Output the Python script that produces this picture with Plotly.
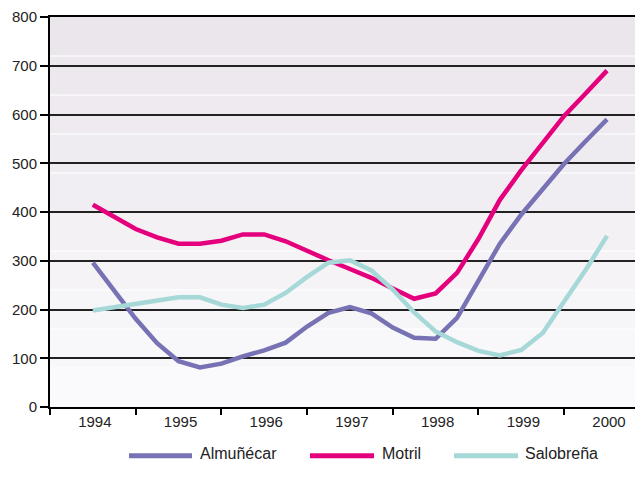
import plotly.graph_objects as go

# ---- data (quarterly readings, values in units) ----
quarters = [1994 + i * 0.25 for i in range(25)]
years = [1994, 1995, 1996, 1997, 1998, 1999, 2000]
year_labels = ["1994", "1995", "1996", "1997", "1998", "1999", "2000"]

almunecar = [296, 237, 181, 131, 94, 81, 89, 104, 116, 132, 165, 193, 205,
             192, 163, 142, 140, 183, 258, 335, 395, 448, 499, 545, 590]
motril = [415, 390, 365, 348, 335, 335, 341, 354, 354, 340, 320, 301, 283,
          265, 243, 222, 233, 275, 345, 425, 486, 542, 597, 643, 690]
salobrena = [198, 205, 212, 218, 225, 225, 210, 203, 210, 234, 267, 296, 301,
             280, 241, 194, 155, 133, 115, 106, 117, 152, 216, 281, 351]

series_names = ["Almuñécar", "Motril", "Salobreña"]
series_values = [almunecar, motril, salobrena]
series_colors = ["#7772b3", "#e4007c", "#a5d8d7"]

y_ticks = [0, 100, 200, 300, 400, 500, 600, 700, 800]

FONT = "Liberation Sans, Arial, Helvetica, sans-serif"

fig = go.Figure()
for name, vals, col in zip(series_names, series_values, series_colors):
    fig.add_trace(go.Scatter(x=quarters, y=vals, mode="lines", name=name,
                             line=dict(color=col, width=4.5),
                             showlegend=False))

shapes = []
# stepped background bands (every 80 units), darker at top
n_bands = 10
top_rgb = (234, 230, 236)
bot_rgb = (250, 249, 251)
for i in range(n_bands):
    t = i / (n_bands - 1)
    r = round(bot_rgb[0] + (top_rgb[0] - bot_rgb[0]) * t)
    g = round(bot_rgb[1] + (top_rgb[1] - bot_rgb[1]) * t)
    b = round(bot_rgb[2] + (top_rgb[2] - bot_rgb[2]) * t)
    shapes.append(dict(type="rect", xref="paper", yref="y", x0=0, x1=1,
                       y0=i * 80, y1=(i + 1) * 80, layer="below",
                       fillcolor=f"rgb({r},{g},{b})", line=dict(width=0)))
for i in range(1, n_bands):
    shapes.append(dict(type="line", xref="paper", yref="y", x0=0, x1=1,
                       y0=i * 80, y1=i * 80, layer="below",
                       line=dict(color="white", width=1.2)))

# custom legend
leg_y = -0.125
leg_items = [(0.1332, 0.2395, 0.2496), (0.4384, 0.5464, 0.5565), (0.6813, 0.7892, 0.7976)]
annotations = []
for (x0, x1, xt), name, col in zip(leg_items, series_names, series_colors):
    shapes.append(dict(type="line", xref="paper", yref="paper", x0=x0, x1=x1,
                       y0=leg_y, y1=leg_y, line=dict(color=col, width=5)))
    annotations.append(dict(xref="paper", yref="paper", x=xt, y=leg_y + 0.006,
                            text=name, showarrow=False, xanchor="left",
                            yanchor="middle",
                            font=dict(family=FONT, size=16, color="#222")))

# the page body adds an 8px offset; compensate in size and margins
fig.update_layout(
    width=635, height=480,
    margin=dict(l=42, r=0, t=6, b=81),
    paper_bgcolor="white", plot_bgcolor="white",
    shapes=shapes, annotations=annotations,
    showlegend=False,
    font=dict(family=FONT, size=15, color="#222"),
    xaxis=dict(range=[1993.5, 2000.42], tickmode="array", tickvals=years,
               ticktext=year_labels, ticks="", showgrid=False, zeroline=False,
               showline=True, linecolor="black", linewidth=2, mirror=True,
               ticklabelshift=2,
               minor=dict(tickmode="array",
                          tickvals=[1993.5, 1994.5, 1995.5, 1996.5, 1997.5, 1998.5, 1999.5],
                          ticks="outside", ticklen=6, tickwidth=1.5,
                          tickcolor="black", showgrid=False),
               tickfont=dict(family=FONT, size=15, color="#222")),
    yaxis=dict(range=[0, 800], tickmode="array", tickvals=y_ticks,
               ticks="outside", ticklen=8, tickwidth=1.5, tickcolor="black",
               showgrid=True, gridcolor="#222", gridwidth=1.5,
               zeroline=False, showline=True, linecolor="black", linewidth=2,
               ticklabeloverflow="allow",
               tickfont=dict(family=FONT, size=15, color="#222")),
)

fig.write_html("out.html")
